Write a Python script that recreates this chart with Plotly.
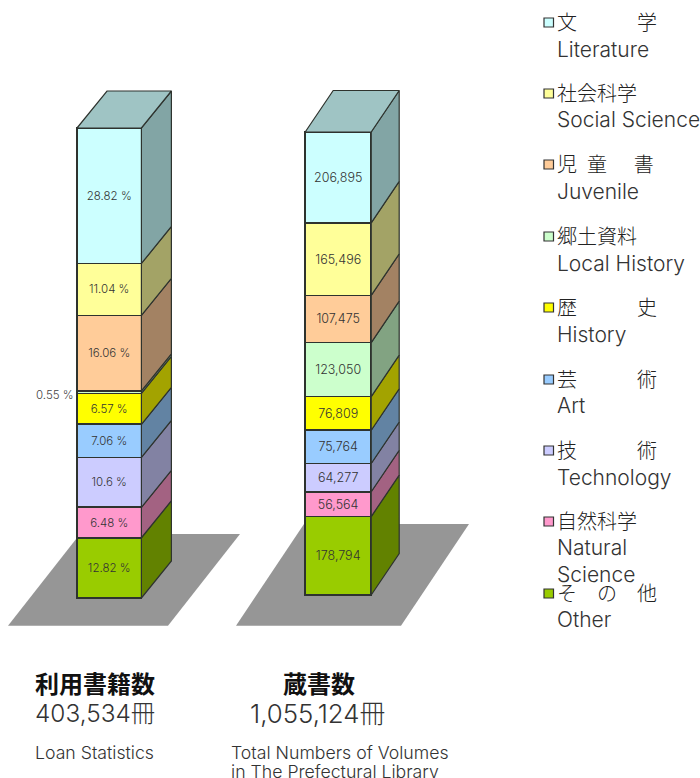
import plotly.graph_objects as go

W, H = 700, 778

# ---- data (bottom of stack first) ----
keys = ["other", "natural", "technology", "art", "history", "local", "juvenile", "social", "literature"]
loan_percent = [12.82, 6.48, 10.6, 7.06, 6.57, 0.55, 16.06, 11.04, 28.82]
volumes = [178794, 56564, 64277, 75764, 76809, 123050, 107475, 165496, 206895]
front_colors = ["#99CC00", "#FF99CC", "#CCCCFF", "#99CCFF", "#FFFF00", "#CCFFCC", "#FFCC99", "#FFFF99", "#CCFFFF"]
side_colors = ["#628200", "#A36282", "#8282A3", "#6283A3", "#A3A300", "#82A382", "#A38263", "#A3A366", "#82A5A5"]
top_color = "#9FC4C4"

legend_ja = ["文\u3000\u3000\u3000学", "社会科学", "児\u2002童\u2003\u2006\u2006書", "郷土資料", "歴\u3000\u3000\u3000史",
             "芸\u3000\u3000\u3000術", "技\u3000\u3000\u3000術", "自然科学", "そ\u3000の\u3000他"]
legend_en = ["Literature", "Social Science", "Juvenile", "Local History", "History",
             "Art", "Technology", "Natural<br>Science", "Other"]

# ---- layout constants in page pixels ----
FONT = "Inter, Noto Sans CJK JP, sans-serif"
BOLD_FONT = "Noto Sans CJK JP, sans-serif"
TEXT = "#333333"
EDGE = "#2E332E"
bars = [
    dict(values=loan_percent, cx=109.2, w=64.4, top=128, bottom=598, dx=30, dy=37, fs=11.5, x="x", y="y"),
    dict(values=volumes, cx=338.2, w=66, top=132, bottom=595, dx=28, dy=41.5, fs=12.5, x="x2", y="y2"),
]
legend_rows = [(23, 49), (94, 120), (165, 191), (237, 263), (308, 334), (380, 405), (451, 477), (522, 561), (594, 619)]


def px(x, y):
    return x / W, 1 - y / H


def poly(points, color):
    pts = [px(*p) for p in points]
    path = "M " + " L ".join(f"{a:.5f},{b:.5f}" for a, b in pts) + " Z"
    return dict(type="path", xref="paper", yref="paper", path=path, fillcolor=color,
                line=dict(width=0), layer="below")


def note(text, x, y, size, anchor="left", color=TEXT, family=FONT, weight=300):
    ax, ay = px(x, y)
    return dict(text=text, x=ax, y=ay, xref="paper", yref="paper", xanchor=anchor, yanchor="middle",
                showarrow=False, align="left", font=dict(family=family, size=size, color=color, weight=weight),
                borderpad=0, borderwidth=0)


fig = go.Figure()
shapes = [
    poly([(8, 625.7), (168, 625.7), (240, 534), (80, 534)], "#969696"),
    poly([(236, 625.7), (401, 625.7), (469, 524), (304, 524)], "#969696"),
]
annotations = []

for b in bars:
    total = sum(b["values"])
    scale = (b["bottom"] - b["top"]) / total          # pixels per data unit
    y_range = [-(H - b["bottom"]) / scale, b["bottom"] / scale]
    dy_val = b["dy"] / scale
    x_right = b["cx"] + b["w"] / 2
    x_left = b["cx"] - b["w"] / 2
    is_pct = b["x"] == "x"
    axis_suffix = "" if is_pct else "2"
    fig.update_layout({
        "xaxis" + axis_suffix: dict(range=[0, W], domain=[0, 1], visible=False, fixedrange=True,
                                    **({} if is_pct else dict(overlaying="x"))),
        "yaxis" + axis_suffix: dict(range=y_range, domain=[0, 1], visible=False, fixedrange=True,
                                    **({} if is_pct else dict(overlaying="y"))),
    })
    cum = 0
    for key, v, fc, sc in zip(keys, b["values"], front_colors, side_colors):
        if is_pct:
            label = f"{v:g} %"
        else:
            label = f"{v:,}"
        inside = not (is_pct and key == "local")
        fig.add_trace(go.Bar(
            x=[b["cx"]], y=[v], width=[b["w"]], xaxis=b["x"], yaxis=b["y"], name=key,
            marker=dict(color=fc, line=dict(color=EDGE, width=1.6)),
            text=[label if inside else ""], textposition="inside", insidetextanchor="middle",
            textangle=0, constraintext="none",
            textfont=dict(family=FONT, size=b["fs"], color=TEXT, weight=300), showlegend=False, hoverinfo="skip",
        ))
        if not inside:
            annotations.append(note(label, 74, 394.5, 11.5, anchor="right", color="#444444"))
        # side face, derived from the cumulative values
        fig.add_trace(go.Scatter(
            x=[x_right, x_right + b["dx"], x_right + b["dx"], x_right, x_right],
            y=[cum, cum + dy_val, cum + v + dy_val, cum + v, cum],
            xaxis=b["x"], yaxis=b["y"], mode="lines", fill="toself", fillcolor=sc,
            line=dict(color=EDGE, width=1.2), showlegend=False, hoverinfo="skip",
        ))
        cum += v
    # top face
    fig.add_trace(go.Scatter(
        x=[x_left, x_right, x_right + b["dx"], x_left + b["dx"], x_left],
        y=[total, total, total + dy_val, total + dy_val, total],
        xaxis=b["x"], yaxis=b["y"], mode="lines", fill="toself", fillcolor=top_color,
        line=dict(color=EDGE, width=1.2), showlegend=False, hoverinfo="skip",
    ))

# legend (top of stack first)
for ja, en, fc, (y1, y2) in zip(legend_ja, legend_en, front_colors[::-1], legend_rows):
    ax0, ay0 = px(544, y1 - 5)
    ax1, ay1 = px(553.5, y1 + 4)
    shapes.append(dict(type="rect", xref="paper", yref="paper", x0=ax0, y0=ay0, x1=ax1, y1=ay1,
                       fillcolor=fc, line=dict(color="#333333", width=1.2)))
    annotations.append(note(ja, 556.5, y1, 20, color="#222222"))
    annotations.append(note(en, 556.5, y2, 21))

# captions
annotations += [
    note("<b>利用書籍数</b>", 35, 682, 24, color="#111111", family=BOLD_FONT, weight=400),
    note("403,534冊", 35, 713, 24.4),
    note("Loan Statistics", 35, 752, 17.7),
    note("<b>蔵書数</b>", 283, 682, 24, color="#111111", family=BOLD_FONT, weight=400),
    note("1,055,124冊", 250, 713, 25.8),
    note("Total Numbers of Volumes", 231, 752, 17.7),
    note("in The Prefectural Library", 231, 771.5, 17.7),
]

fig.update_layout(
    width=W, height=H, margin=dict(l=0, r=0, t=0, b=0, pad=0), barmode="stack",
    paper_bgcolor="white", plot_bgcolor="rgba(0,0,0,0)", shapes=shapes, annotations=annotations,
    showlegend=False,
)
fig.write_html("out.html", config={"displayModeBar": False},
               post_script="document.body.style.margin='0';document.body.style.overflow='hidden';")
